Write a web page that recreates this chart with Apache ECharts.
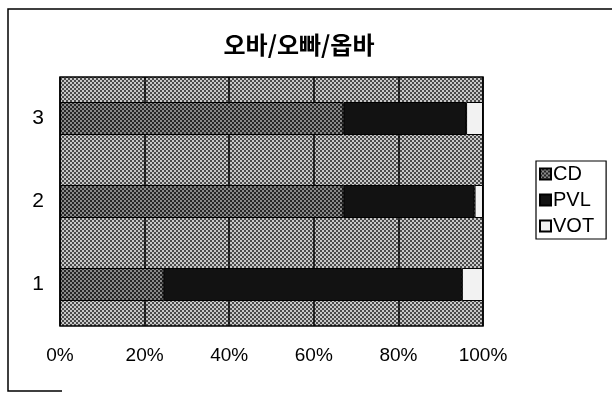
<!DOCTYPE html>
<html>
<head>
<meta charset="utf-8">
<script src="https://cdn.jsdelivr.net/npm/echarts@6/dist/echarts.min.js"></script>
<style>
html,body{margin:0;padding:0;background:#fff;}
#chart{width:612px;height:394px;}
</style>
</head>
<body>
<div id="chart"></div>
<script>
const categories = ['1', '2', '3'];
const seriesNames = ['CD', 'PVL', 'VOT'];
const cdValues = [24.5, 67, 67];
const pvlValues = [70.5, 31, 29];
const votValues = [5, 2, 4];
const xTicks = [0, 20, 40, 60, 80, 100];
const titleText = '오바/오빠/옵바';

function makePattern(a, b, size) {
  const c = document.createElement('canvas');
  c.width = size * 2; c.height = size * 2;
  const g = c.getContext('2d');
  g.fillStyle = a; g.fillRect(0, 0, size * 2, size * 2);
  g.fillStyle = b;
  g.fillRect(0, 0, size, size);
  g.fillRect(size, size, size, size);
  return c;
}
const bgPat = { image: makePattern('#4a4a4a', '#c8c8c8', 2), repeat: 'repeat' };
const cdPat = { image: makePattern('#262626', '#8a8a8a', 2), repeat: 'repeat' };
const pvlColor = '#121212';
const votColor = '#f2f2f2';

const chart = echarts.init(document.getElementById('chart'), null, { renderer: 'canvas' });
const sans = 'Arial, "Liberation Sans", sans-serif';
chart.setOption({
  animation: false,
  backgroundColor: '#fff',
  title: {
    text: titleText,
    left: 294,
    top: 28,
    textAlign: 'center',
    textStyle: { fontFamily: '"Noto Sans CJK KR", sans-serif', fontSize: 24, fontWeight: 'bold', color: '#000' }
  },
  legend: {
    orient: 'vertical',
    left: 536,
    top: 161,
    padding: [3, 12, 3, 3],
    itemGap: 6,
    itemWidth: 11,
    itemHeight: 11,
    borderColor: '#000',
    borderWidth: 1.2,
    icon: 'rect',
    textStyle: { fontFamily: sans, fontSize: 20, color: '#000', padding: [0, 0, 0, -3] },
    data: seriesNames
  },
  grid: {
    left: 60, right: 129, top: 77, bottom: 68,
    show: true,
    backgroundColor: bgPat,
    borderColor: '#000',
    borderWidth: 1.5
  },
  xAxis: {
    type: 'value',
    min: 0, max: 100, interval: 20,
    axisLine: { show: false },
    axisTick: { show: false },
    axisLabel: {
      margin: 20,
      fontFamily: sans, fontSize: 19, color: '#000',
      formatter: v => xTicks.includes(v) ? v + '%' : ''
    },
    splitLine: { show: true, lineStyle: { color: '#000', width: 1.5 } }
  },
  yAxis: {
    type: 'category',
    data: categories,
    axisLine: { show: false },
    axisTick: { show: false },
    axisLabel: { margin: 16, fontFamily: sans, fontSize: 21, color: '#000' }
  },
  series: [
    { name: 'CD', type: 'bar', stack: 's', barWidth: 33, data: cdValues,
      itemStyle: { color: cdPat, borderColor: '#000', borderWidth: 1 } },
    { name: 'PVL', type: 'bar', stack: 's', barWidth: 33, data: pvlValues,
      itemStyle: { color: pvlColor, borderColor: '#000', borderWidth: 1 } },
    { name: 'VOT', type: 'bar', stack: 's', barWidth: 33, data: votValues,
      itemStyle: { color: votColor, borderColor: '#000', borderWidth: 1 } }
  ],
  graphic: [{
    type: 'polyline',
    shape: { points: [[62, 391], [8, 391], [8, 9], [612, 9]] },
    style: { stroke: '#000', lineWidth: 1.5, fill: null }
  }]
});
</script>
</body>
</html>
